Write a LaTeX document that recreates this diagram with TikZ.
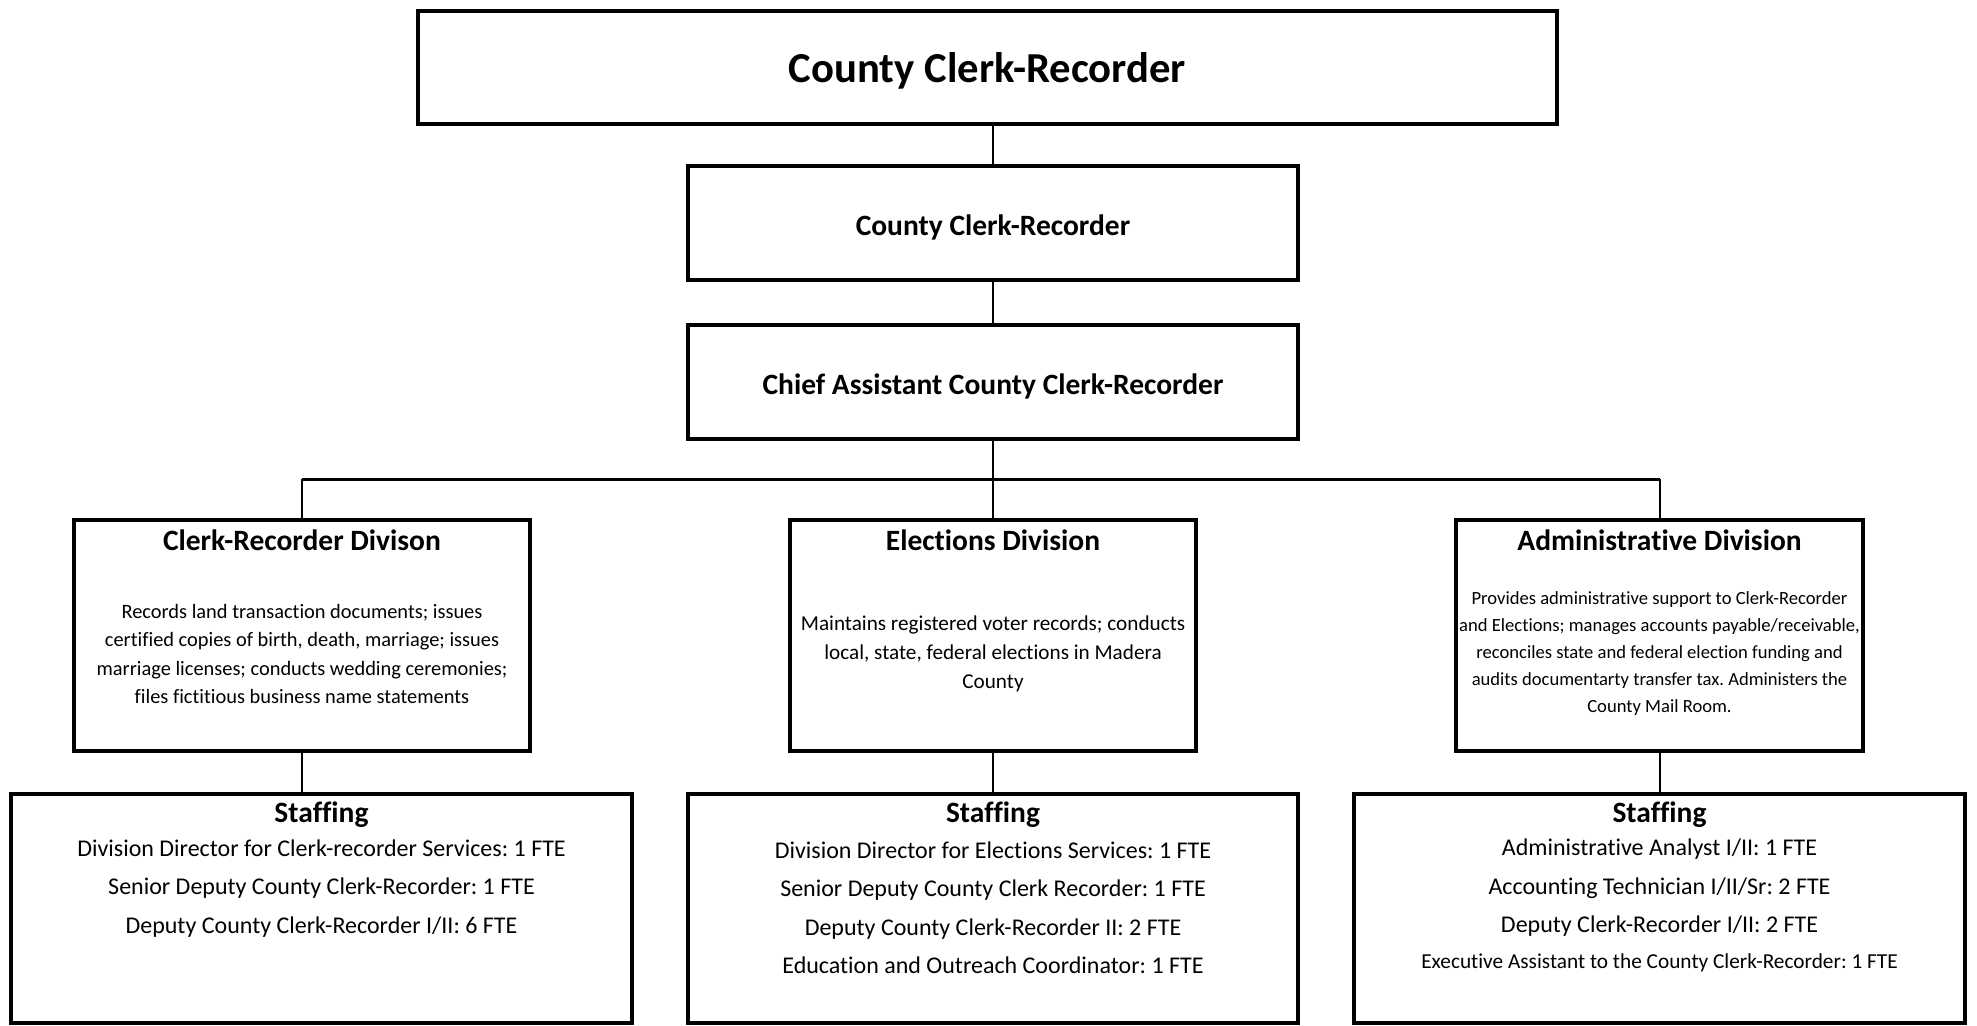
\documentclass[tikz,border=0pt]{standalone}
\usepackage{fontspec}
\setmainfont{Carlito}[Ligatures=NoCommon]
\frenchspacing
\usetikzlibrary{positioning}

\begin{document}
\begin{tikzpicture}[x=1pt, y=-1pt,
    box/.style={draw, line width=4.5pt, inner sep=0pt},
    link/.style={line width=2pt},
    head/.style={font=\fontsize{29.5}{35}\selectfont\bfseries},
    desc/.style={align=center, font=\fontsize{20.4}{28.5}\selectfont},
    staff/.style={align=center, font=\fontsize{24}{38.5}\selectfont}]

        \useasboundingbox (0,0) rectangle (1977,1025);

        % Leitung
        \node[box, minimum width=1139pt, minimum height=113pt] at (987.5,67.5) (clerk) {};
        \node[font=\fontsize{42.7}{50}\selectfont\bfseries] at (987.5,71) (clerktext) {County Clerk-Recorder};
        \node[box, minimum width=610pt, minimum height=114pt] at (993,223) (head) {};
        \node[head] at (993,227) (headtext) {County Clerk-Recorder};
        \node[box, minimum width=610pt, minimum height=114pt] at (993,382) (chief) {};
        \node[head] at (993,386) (chieftext) {Chief Assistant County Clerk-Recorder};
        \coordinate (bar) at (993,479);

        % Divisionen
        \node[box, minimum width=456pt, minimum height=231pt] at (302,635.5) (recdiv) {};
        \node[head] at (302,540) (rectitle) {Clerk-Recorder Divison};
        \node[desc] at (302,654) (recdesc) {Records land transaction documents; issues\\certified copies of birth, death, marriage; issues\\marriage licenses; conducts wedding ceremonies;\\files fictitious business name statements};

        \node[box, minimum width=406pt, minimum height=231pt] at (993,635.5) (elecdiv) {};
        \node[head] at (993,540) (electitle) {Elections Division};
        \node[desc, font=\fontsize{21.2}{29}\selectfont] at (993,654) (elecdesc) {Maintains registered voter records; conducts\\local, state, federal elections in Madera\\County};

        \node[box, minimum width=407pt, minimum height=231pt] at (1659.5,635.5) (admdiv) {};
        \node[head] at (1659.5,540) (admtitle) {Administrative Division};
        \node[desc, font=\fontsize{18.6}{27}\selectfont] at (1659.5,654) (admdesc) {Provides administrative support to Clerk-Recorder\\and Elections; manages accounts payable/receivable,\\reconciles state and federal election funding and\\audits documentarty transfer tax. Administers the\\County Mail Room.};

        % Staffing
        \node[box, minimum width=621pt, minimum height=229pt] at (321.5,908.5) (recstaff) {};
        \node[head] at (321.5,815) (recstafftitle) {Staffing};
        \node[staff] at (321.5,888.5) (recstafflist) {Division Director for Clerk-recorder Services: 1 FTE\\Senior Deputy County Clerk-Recorder: 1 FTE\\Deputy County Clerk-Recorder I/II: 6 FTE};

        \node[box, minimum width=610pt, minimum height=229pt] at (993,908.5) (elecstaff) {};
        \node[head] at (993,815) (elecstafftitle) {Staffing};
        \node[staff] at (993,907.5) (elecstafflist) {Division Director for Elections Services: 1 FTE\\Senior Deputy County Clerk Recorder: 1 FTE\\Deputy County Clerk-Recorder II: 2 FTE\\Education and Outreach Coordinator: 1 FTE};

        \node[box, minimum width=611pt, minimum height=229pt] at (1659.5,908.5) (admstaff) {};
        \node[head] at (1659.5,815) (admstafftitle) {Staffing};
        \node[staff] at (1659.5,888) (admstafflist) {Administrative Analyst I/II: 1 FTE\\Accounting Technician I/II/Sr: 2 FTE\\Deputy Clerk-Recorder I/II: 2 FTE};
        \node[staff, font=\fontsize{21.3}{24}\selectfont] at (1659.5,963) (admstaffexec) {Executive Assistant to the County Clerk-Recorder: 1 FTE};

        % Linien
        \draw[link] (clerk.south -| head.north) -- (head.north);
        \draw[link] (head.south) -- (chief.north);
        \draw[link] (chief.south) -- (bar);
        \draw[line width=3pt] (recdiv.north |- bar) -- (admdiv.north |- bar);
        \draw[link] (recdiv.north |- bar) -- (recdiv.north);
        \draw[link] (elecdiv.north |- bar) -- (elecdiv.north);
        \draw[link] (admdiv.north |- bar) -- (admdiv.north);
        \draw[link] (recdiv.south) -- (recdiv.south |- recstaff.north);
        \draw[link] (elecdiv.south) -- (elecdiv.south |- elecstaff.north);
        \draw[link] (admdiv.south) -- (admdiv.south |- admstaff.north);

\end{tikzpicture}
\end{document}
